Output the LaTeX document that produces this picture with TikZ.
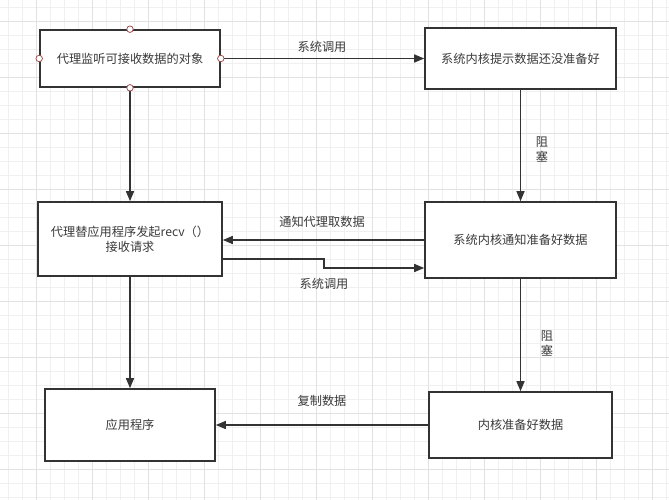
\documentclass[tikz,border=0pt]{standalone}
\usepackage{fontspec}
\newfontfamily\cjk{Noto Sans CJK SC}
\usetikzlibrary{arrows.meta,calc}
\definecolor{linec}{HTML}{333333}
\definecolor{txtc}{HTML}{3A3A3A}
\definecolor{gridminor}{HTML}{F0F0F0}
\definecolor{gridmajor}{HTML}{E2E2E2}
\definecolor{portc}{HTML}{A05050}
\tikzset{
  box/.style={draw=linec, line width=1.6pt, fill=white, inner sep=0pt, align=center,
    font=\cjk\fontsize{12.2}{15}\selectfont, text=txtc},
  lbl/.style={font=\cjk\fontsize{12.2}{15}\selectfont, text=txtc, inner sep=0pt, align=center},
  arr/.style={draw=linec, line width=1.4pt, -{Triangle[length=10pt,width=8pt]}},
  port/.style={circle, draw=portc, fill=white, line width=0.8pt, minimum size=6.5pt, inner sep=0pt}
}
\begin{document}
\begin{tikzpicture}[x=1pt,y=-1pt]
\useasboundingbox (0,0) rectangle (669,500);
\fill[white] (0,0) rectangle (669,500);
% grid
\foreach \gx in {8,22,...,668} {\draw[gridminor, line width=0.9pt] (\gx,0) -- (\gx,500);}
\foreach \gy in {7,21,...,499} {\draw[gridminor, line width=0.9pt] (0,\gy) -- (669,\gy);}
\foreach \gx in {36,92,...,668} {\draw[gridmajor, line width=0.9pt] (\gx,0) -- (\gx,500);}
\foreach \gy in {21,77,...,499} {\draw[gridmajor, line width=0.9pt] (0,\gy) -- (669,\gy);}

% boxes
\node[box, minimum width=180pt, minimum height=57pt] (b1) at (130,58.5) {代理监听可接收数据的对象};
\node[box, minimum width=191pt, minimum height=61pt] (b2) at (520.5,58.5) {系统内核提示数据还没准备好};
\node[box, minimum width=184pt, minimum height=74pt] (b3) at (130,239) {代理替应用程序发起recv（）\\接收请求};
\node[box, minimum width=191pt, minimum height=76pt] (b4) at (520.5,240) {系统内核通知准备好数据};
\node[box, minimum width=170pt, minimum height=72pt] (b5) at (130,425) {应用程序};
\node[box, minimum width=183pt, minimum height=66pt] (b6) at (520.5,425) {内核准备好数据};

% connectors
\draw[arr] (b1.east) -- (b2.west);
\draw[arr] (b1.south) -- (b3.north);
\draw[arr] (b2.south) -- (b4.north);
\draw[arr] (b4.west) -- (b4.west -| b3.east);
\draw[arr] ($(b3.east)+(0,20)$) -- ++(101,0) |- ($(b4.west)+(0,28)$);
\draw[arr] (b3.south) -- (b5.north);
\draw[arr] (b4.south) -- (b6.north);
\draw[arr] (b6.west) -- (b6.west -| b5.east);

% ports on first box
\node[port] (p1) at (b1.north) {};
\node[port] (p2) at (b1.south) {};
\node[port] (p3) at (b1.west) {};
\node[port] (p4) at (b1.east) {};

% labels
\node[lbl] (l1) at (322,47) {系统调用};
\node[lbl] (l2) at (322,222) {通知代理取数据};
\node[lbl] (l3) at (324,284) {系统调用};
\node[lbl] (l4) at (542,149) {阻\\塞};
\node[lbl] (l5) at (547,343) {阻\\塞};
\node[lbl] (l6) at (322,401) {复制数据};
\end{tikzpicture}
\end{document}
